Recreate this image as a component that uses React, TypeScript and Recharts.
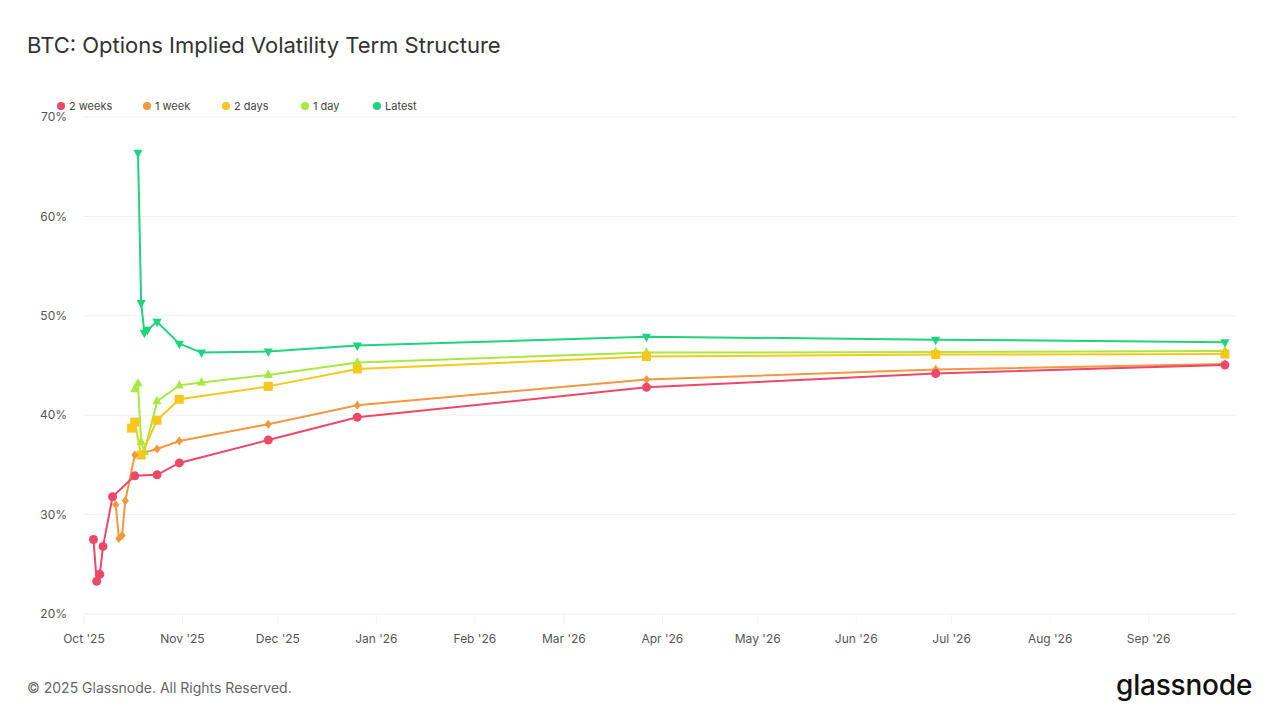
import React from 'react';
import { LineChart, Line, XAxis, YAxis, CartesianGrid } from 'recharts';

const DAY = 86400000;
const toT = (s: string) => Date.parse(s + 'T00:00:00Z');

// 2 weeks ago
const twoWeeksDates = ['2025-10-04', '2025-10-05', '2025-10-06', '2025-10-07', '2025-10-10', '2025-10-17', '2025-10-24', '2025-10-31', '2025-11-28', '2025-12-26', '2026-03-27', '2026-06-26', '2026-09-25'];
const twoWeeksIV = [27.5, 23.3, 24.0, 26.8, 31.8, 33.9, 34.0, 35.2, 37.5, 39.8, 42.8, 44.2, 45.05];

// 1 week ago
const oneWeekDates = ['2025-10-11', '2025-10-12', '2025-10-13', '2025-10-14', '2025-10-17', '2025-10-24', '2025-10-31', '2025-11-28', '2025-12-26', '2026-03-27', '2026-06-26', '2026-09-25'];
const oneWeekIV = [31.0, 27.6, 27.9, 31.4, 36.0, 36.6, 37.4, 39.1, 41.0, 43.6, 44.6, 45.15];

// 2 days ago
const twoDaysDates = ['2025-10-16', '2025-10-17', '2025-10-19', '2025-10-24', '2025-10-31', '2025-11-28', '2025-12-26', '2026-03-27', '2026-06-26', '2026-09-25'];
const twoDaysIV = [38.7, 39.3, 36.0, 39.5, 41.6, 42.9, 44.65, 45.9, 46.1, 46.15];

// 1 day ago
const oneDayDates = ['2025-10-17', '2025-10-18', '2025-10-19', '2025-10-20', '2025-10-24', '2025-10-31', '2025-11-07', '2025-11-28', '2025-12-26', '2026-03-27', '2026-06-26', '2026-09-25'];
const oneDayIV = [42.6, 43.2, 37.3, 36.3, 41.4, 43.0, 43.3, 44.05, 45.3, 46.3, 46.35, 46.45];

// Latest
const latestDates = ['2025-10-18', '2025-10-19', '2025-10-20', '2025-10-21', '2025-10-24', '2025-10-31', '2025-11-07', '2025-11-28', '2025-12-26', '2026-03-27', '2026-06-26', '2026-09-25'];
const latestIV = [66.4, 51.3, 48.3, 48.6, 49.4, 47.2, 46.3, 46.4, 47.0, 47.9, 47.6, 47.35];

const monthTicks = ['2025-10-01', '2025-11-01', '2025-12-01', '2026-01-01', '2026-02-01', '2026-03-01', '2026-04-01', '2026-05-01', '2026-06-01', '2026-07-01', '2026-08-01', '2026-09-01'];
const monthLabels = ["Oct '25", "Nov '25", "Dec '25", "Jan '26", "Feb '26", "Mar '26", "Apr '26", "May '26", "Jun '26", "Jul '26", "Aug '26", "Sep '26"];
const yTicks = [20, 30, 40, 50, 60, 70];

const seriesNames = ['2 weeks', '1 week', '2 days', '1 day', 'Latest'];
const seriesColors = ['#EE4869', '#F4983F', '#F7C81B', '#A8E840', '#1FD47C'];

const build = (dates: string[], vals: number[]) => dates.map((d, i) => ({ t: toT(d), v: vals[i] }));

const tickTimes = monthTicks.map(toT);
const labelFor = (t: number) => {
  const i = tickTimes.indexOf(t);
  return i >= 0 ? monthLabels[i] : '';
};

const start = toT('2025-10-01');
const domain: [number, number] = [start - 0.3 * DAY, start + 362.8 * DAY];

type Shape = 'circle' | 'diamond' | 'square' | 'up' | 'down';

const makeDot = (shape: Shape, color: string) => (props: any) => {
  const { cx, cy, index } = props;
  const k = `${shape}-${index}`;
  if (cx == null || cy == null) return <g key={k} />;
  switch (shape) {
    case 'circle':
      return <circle key={k} cx={cx} cy={cy} r={4.5} fill={color} />;
    case 'diamond':
      return <polygon key={k} points={`${cx},${cy - 4.5} ${cx + 3.6},${cy} ${cx},${cy + 4.5} ${cx - 3.6},${cy}`} fill={color} />;
    case 'square':
      return <rect key={k} x={cx - 4.5} y={cy - 4.5} width={9} height={9} fill={color} />;
    case 'up':
      return <polygon key={k} points={`${cx},${cy - 5.5} ${cx + 4.6},${cy + 3} ${cx - 4.6},${cy + 3}`} fill={color} />;
    default:
      return <polygon key={k} points={`${cx - 4.6},${cy - 3} ${cx + 4.6},${cy - 3} ${cx},${cy + 5.5}`} fill={color} />;
  }
};

const series = [
  { name: seriesNames[4], color: seriesColors[4], shape: 'down' as Shape, data: build(latestDates, latestIV) },
  { name: seriesNames[3], color: seriesColors[3], shape: 'up' as Shape, data: build(oneDayDates, oneDayIV) },
  { name: seriesNames[2], color: seriesColors[2], shape: 'square' as Shape, data: build(twoDaysDates, twoDaysIV) },
  { name: seriesNames[1], color: seriesColors[1], shape: 'diamond' as Shape, data: build(oneWeekDates, oneWeekIV) },
  { name: seriesNames[0], color: seriesColors[0], shape: 'circle' as Shape, data: build(twoWeeksDates, twoWeeksIV) },
];

const legendX = [61, 147, 226, 305, 377];

export default function App() {
  return (
    <div style={{ position: 'absolute', left: 0, top: 0, width: 1280, height: 720, background: '#fff', fontFamily: 'Inter, "Noto Sans", sans-serif', overflow: 'hidden' }}>
      <div style={{ position: 'absolute', left: 27, top: 32, fontSize: 22, color: '#333', lineHeight: '26px', whiteSpace: 'nowrap' }}>
        BTC: Options Implied Volatility Term Structure
      </div>
      <div style={{ position: 'absolute', left: 0, top: 0 }}>
        <LineChart width={1280} height={720} margin={{ top: 117, right: 43, bottom: 76, left: 23 }}>
          <CartesianGrid vertical={false} stroke="#efefef" strokeWidth={1} />
          <XAxis
            dataKey="t"
            type="number"
            domain={domain}
            ticks={tickTimes}
            tickFormatter={labelFor}
            allowDataOverflow
            axisLine={false}
            tickLine={{ stroke: '#f3f3f3' }}
            tickSize={10}
            tick={{ fill: '#555', fontSize: 12 }}
            tickMargin={10}
            height={30}
            interval={0}
          />
          <YAxis
            type="number"
            domain={[20, 70]}
            ticks={yTicks}
            tickFormatter={(v: number) => `${v}%`}
            axisLine={false}
            tickLine={false}
            tickSize={0}
            tickMargin={16}
            tick={{ fill: '#555', fontSize: 12 }}
            width={60}
            allowDataOverflow
          />
          {series.map((s) => (
            <Line
              key={s.name}
              data={s.data}
              dataKey="v"
              name={s.name}
              type="linear"
              stroke={s.color}
              strokeWidth={2}
              dot={makeDot(s.shape, s.color)}
              activeDot={false}
              isAnimationActive={false}
            />
          ))}
        </LineChart>
      </div>
      {seriesNames.map((n, i) => (
        <div key={n} style={{ position: 'absolute', left: legendX[i] - 4, top: 99, height: 14, display: 'flex', alignItems: 'center', fontSize: 11, color: '#444', whiteSpace: 'nowrap' }}>
          <span style={{ display: 'inline-block', width: 8, height: 8, borderRadius: 4, background: seriesColors[i], marginRight: 4 }} />
          {n}
        </div>
      ))}
      <div style={{ position: 'absolute', left: 27, top: 679, fontSize: 14, color: '#666', lineHeight: '18px', whiteSpace: 'nowrap' }}>
        © 2025 Glassnode. All Rights Reserved.
      </div>
      <div style={{ position: 'absolute', left: 1116, top: 670, fontSize: 28, color: '#111', lineHeight: '30px', fontWeight: 500, letterSpacing: -0.2, whiteSpace: 'nowrap' }}>
        glassnode
      </div>
    </div>
  );
}
